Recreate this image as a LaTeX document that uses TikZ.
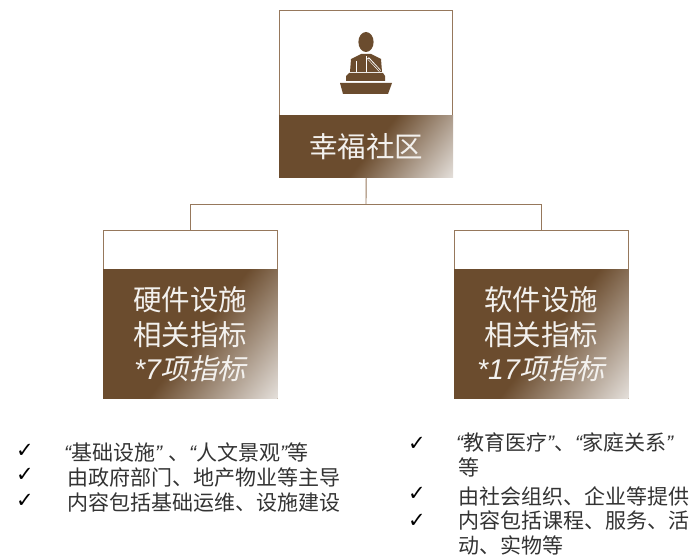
\documentclass[tikz,border=0pt]{standalone}
\usepackage{fontspec}
\setmainfont{Liberation Sans}
\newfontfamily\cjk{Noto Sans CJK SC}
\newfontfamily\cjkslant[FakeSlant=0.22]{Noto Sans CJK SC}
\newfontfamily\chkfont{DejaVu Sans}
\usetikzlibrary{positioning}
\usetikzlibrary{calc}
\definecolor{bandbrown}{HTML}{6B4C2E}
\definecolor{framebrown}{HTML}{96785C}
\definecolor{fadelight}{HTML}{E8E4E0}
\definecolor{listgray}{HTML}{333333}
\pgfdeclarehorizontalshading{bandfade}{100bp}{color(0bp)=(bandbrown); color(52bp)=(bandbrown); color(86bp)=(fadelight); color(100bp)=(fadelight)}
\begin{document}
\begin{tikzpicture}[x=1pt,y=-1pt]
\tikzstyle{frame}=[rectangle,draw=framebrown,line width=0.8pt,fill=white,inner sep=0pt]
\tikzstyle{band}=[rectangle,shading=bandfade,shading angle=-38,text=white!92!bandbrown,inner sep=0pt,align=center,
font=\fontsize{28.5}{35}\selectfont\cjk]
\tikzstyle{ligne}=[draw=framebrown,line width=0.9pt]
\tikzstyle{coche}=[inner sep=0pt,text=black,font=\fontsize{21}{21}\selectfont\chkfont]
\tikzstyle{liste}=[anchor=west,inner sep=0pt,text=listgray,align=left,
font=\fontsize{21}{25}\selectfont\cjk]
\useasboundingbox (0,0) rectangle (693,556);
%cadres
\node[frame,minimum width=173pt,minimum height=167pt] (social) at (366,93.5) {};
\node[frame,minimum width=173.5pt,minimum height=168pt] (hard) at (190.25,314) {};
\node[frame,minimum width=173.5pt,minimum height=168pt] (soft) at (541.25,314) {};
%bandes
\node[band,minimum width=174pt,minimum height=62.6pt] (sociallabel) at (366.2,146.4) {幸福社区};
\node[band,minimum width=174.5pt,minimum height=129.5pt] (hardlabel) at (190.25,333.75) {硬件设施\\相关指标\\[-1pt]{\rmfamily\itshape *7}{\cjkslant 项指标}};
\node[band,minimum width=174.5pt,minimum height=129.5pt] (softlabel) at (541.25,333.75) {软件设施\\相关指标\\[-1pt]{\rmfamily\itshape *17}{\cjkslant 项指标}};
%liens
\coordinate (fork) at (366,204);
\draw[ligne] (sociallabel.south) -- (fork);
\draw[ligne] (fork) -| (hard.north);
\draw[ligne] (fork) -| (soft.north);
%icone
\fill[bandbrown] (366,42) ellipse (7.6 and 10);
\fill[bandbrown] (361,54) -- (371,54) -- (381,59) -- (382,72) -- (350,72) -- (351,59) -- cycle;
\fill[bandbrown] (346,81) -- (346,76) -- (349,73) -- (383,73) -- (385,76) -- (385,81) -- cycle;
\fill[bandbrown] (340,83) -- (392,83) -- (388,94) -- (343,94) -- cycle;
\draw[white,line width=0.7pt] (356.5,72) -- (356.5,61);
\draw[white,line width=0.9pt] (366,72) -- (366,56);
\draw[white,line width=2.4pt] (368,58) -- (380,71);
\draw[bandbrown,line width=0.9pt] (368.5,59) -- (380,71);
%listes
\node[coche] (cka) at (25,451) {✓};
\node[coche] (ckb) at (25,475) {✓};
\node[coche] (ckc) at (25,501) {✓};
\node[liste] (lista) at (64,452) {{\rmfamily\itshape “}基础设施{\rmfamily\itshape ”}\hspace{6pt}、{\rmfamily\itshape “}人文景观{\rmfamily\itshape ”}等};
\node[liste] (listb) at (67,477) {由政府部门、地产物业等主导};
\node[liste] (listc) at (67,502) {内容包括基础运维、设施建设};
\node[coche] (ckd) at (417,444) {✓};
\node[coche] (cke) at (417,494) {✓};
\node[coche] (ckf) at (417,521) {✓};
\node[liste] (listd) at (456,455) {{\rmfamily\itshape “}教育医疗{\rmfamily\itshape ”}、{\rmfamily\itshape “}家庭关系{\rmfamily\itshape ”}\\\hspace{2pt}等};
\node[liste] (liste) at (458,496) {由社会组织、企业等提供};
\node[liste] (listf) at (458,533) {内容包括课程、服务、活\\动、实物等};
\end{tikzpicture}
\end{document}
